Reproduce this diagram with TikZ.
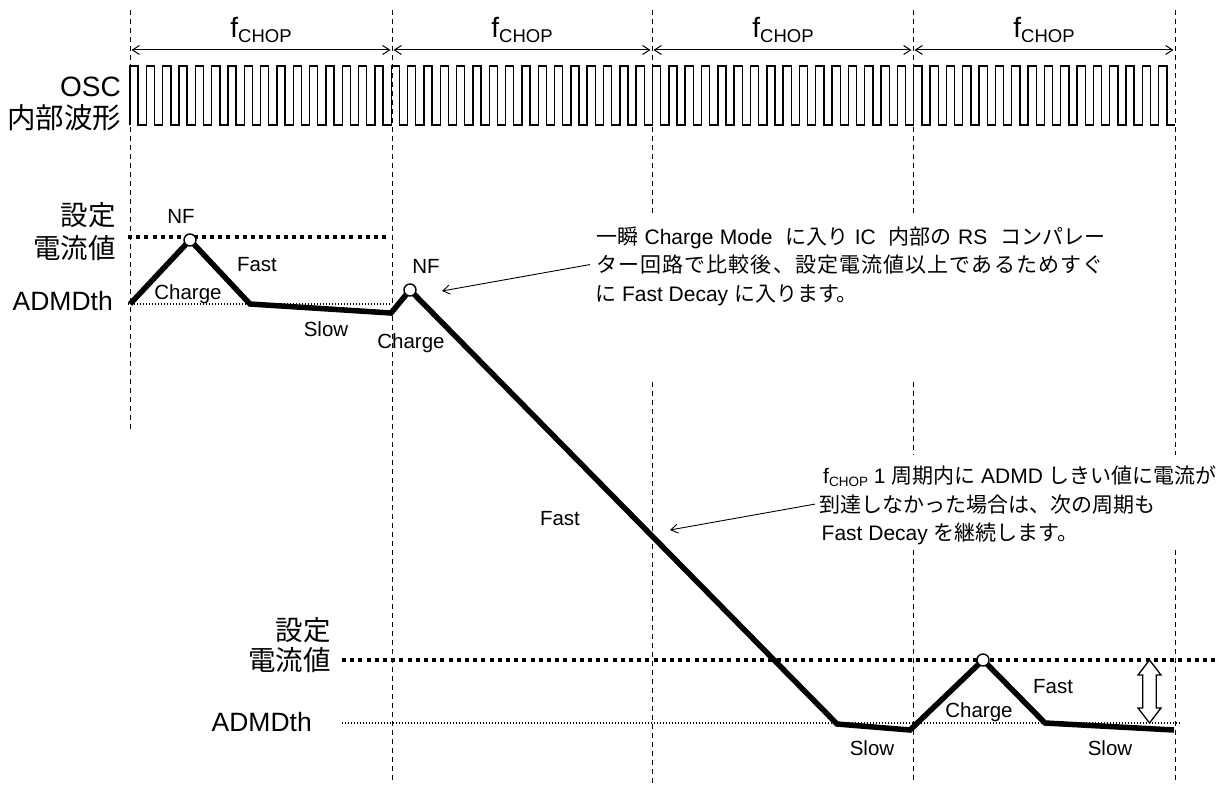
\documentclass[tikz,border=0pt]{standalone}
\usepackage{fontspec}
\setmainfont{Liberation Sans}
\newfontfamily\jp{Noto Sans CJK JP}
\newfontfamily\jpls[LetterSpace=5.3]{Noto Sans CJK JP}
\usetikzlibrary{arrows.meta}
\newcommand\fs[1]{\fontsize{#1}{#1}\selectfont}
\newcommand\fchopbig{{\fs{28}f}\raisebox{-4.5pt}{\fs{18.5}CHOP}}
\newcommand\fchopsmall{{\fs{21}f}\raisebox{-3pt}{\fs{13.5}CHOP}}
\begin{document}
\begin{tikzpicture}[x=1pt,y=-1pt,
  vdash/.style={line width=0.9pt, dash pattern=on 5pt off 4pt},
  wave/.style={line width=5.5pt, line join=miter},
  setline/.style={line width=3.6pt, dash pattern=on 4pt off 4.2pt},
  thline/.style={line width=1.1pt, dash pattern=on 1.1pt off 1.9pt},
  osc/.style={line width=1.4pt, line join=miter},
  lbl/.style={font=\fs{20.5}, inner sep=0pt, anchor=base},
  bigl/.style={font=\fs{26.5}, inner sep=0pt, anchor=base east},
  bigj/.style={font=\fs{27.5}\jp, inner sep=0pt, anchor=east},
  nf/.style={circle, draw, fill=white, line width=1.4pt, minimum size=12pt, inner sep=0pt},
  note/.style={font=\fs{21}, inner sep=0pt, anchor=base west},
  callout/.style={line width=0.9pt, -{Straight Barb[length=7pt,width=9pt]}},
  period/.style={line width=1pt, shorten <=1.5pt, shorten >=1.5pt,
     {Straight Barb[length=7pt,width=9pt]}-{Straight Barb[length=7pt,width=9pt]}}
]
\useasboundingbox (0,0) rectangle (1222,789);

% left labels
\node[font=\fs{28}, inner sep=0pt, anchor=base east] (oscA) at (121,96) {OSC};
\node[font=\fs{28.5}\jp, inner sep=0pt, anchor=east] (oscB) at (121.5,118) {内部波形};
\node[bigj] (set1a) at (116,215) {設定};
\node[bigj] (set1b) at (116,248) {電流値};
\node[bigl] (adm1) at (113,310) {ADMDth};
\node[bigj] (set2a) at (331,630) {設定};
\node[bigj] (set2b) at (331,660) {電流値};
\node[bigl] (adm2) at (312,731) {ADMDth};

% period arrows and labels
\foreach \i/\x in {0/130,1/392,2/652,3/913,4/1175} \coordinate (p\i) at (\x,50);
\draw[period] (p0) -- (p1);
\draw[period] (p1) -- (p2);
\draw[period] (p2) -- (p3);
\draw[period] (p3) -- (p4);
\node[inner sep=0pt, anchor=base] (f1) at (261,38) {\fchopbig};
\node[inner sep=0pt, anchor=base] (f2) at (522,38) {\fchopbig};
\node[inner sep=0pt, anchor=base] (f3) at (783,38) {\fchopbig};
\node[inner sep=0pt, anchor=base] (f4) at (1044,38) {\fchopbig};

% OSC square wave
\draw[osc] (130,125) \foreach \i in {1,...,64} { -- ++(0,-59) -- ++(8.164,0) -- ++(0,59) -- ++(8.164,0) };

% reference levels
\draw[thline] (128,304) -- (390,304);
\draw[setline] (128,237) -- (390,237);
\draw[thline] (342,723) -- (1180,723);
\draw[setline] (342,660) -- (1218,660);

% vertical dashed lines
\foreach \x/\a/\b in {130/10/432, 392/10/782, 652/10/217, 652/382/785,
  913/10/217, 913/382/455, 913/550/782, 1175/10/455, 1175/550/782}
  \draw[vdash] (\x,\a) -- (\x,\b);

% current waveform
\coordinate (a0) at (130,304);
\coordinate (a1) at (190,240);
\coordinate (a2) at (250,304);
\coordinate (a3) at (391,313);
\coordinate (a4) at (410,290);
\coordinate (a5) at (837,724);
\coordinate (a6) at (910,730);
\coordinate (a7) at (983,660);
\coordinate (a8) at (1045,723);
\coordinate (a9) at (1174,730);
\draw[wave] (a0) -- (a1) -- (a2) -- (a3) -- (a4) -- (a5) -- (a6) -- (a7) -- (a8) -- (a9);
\node[nf] (nf1) at (a1) {};
\node[nf] (nf2) at (a4) {};
\node[nf] (nf3) at (a7) {};

% segment labels
\node[lbl] (nf1t) at (181,223) {NF};
\node[lbl] (fast1) at (257,271) {Fast};
\node[lbl] (chg1) at (188,299) {Charge};
\node[lbl] (slow1) at (326,336) {Slow};
\node[lbl] (nf2t) at (426,273) {NF};
\node[lbl] (chg2) at (411,348) {Charge};
\node[lbl] (fast2) at (560,525) {Fast};
\node[lbl] (chg3) at (979,717) {Charge};
\node[lbl] (fast3) at (1053,693) {Fast};
\node[lbl] (slow2) at (872,755) {Slow};
\node[lbl] (slow3) at (1110,755) {Slow};

% hollow double arrow
\draw[line width=1.3pt, fill=white] (1149.5,660) -- (1161,675) -- (1156.2,675) -- (1156.2,708)
  -- (1161,708) -- (1149.5,723) -- (1138,708) -- (1142.8,708) -- (1142.8,675) -- (1138,675) -- cycle;

% annotation 1
\node[note] (n1a) at (596,244) {\makebox[509pt][s]{{\jp 一瞬} Charge Mode \ {\jp に入り} IC \ {\jp 内部の} RS \ {\jp コンパレー}}};
\node[note] (n1b) at (596,272.5) {\jpls ター回路で比較後、設定電流値以上であるためすぐ};
\node[note] (n1c) at (595,301) {{\jp に} Fast Decay {\jp に入ります。}};
\coordinate (t1) at (442,291);
\draw[callout] ([xshift=-6pt]n1b.west) -- (t1);

% annotation 2
\node[note] (n2a) at (823,483.5) {\fchopsmall\ 1 {\jp 周期内に} ADMD {\jp しきい値に電流が}};
\node[note] (n2b) at (819,512) {\jp 到達しなかった場合は、次の周期も};
\node[note] (n2c) at (821.5,540.5) {Fast Decay {\jp を継続します。}};
\coordinate (t2) at (670,530);
\draw[callout] ([xshift=-4pt]n2b.west) -- (t2);
\end{tikzpicture}
\end{document}
